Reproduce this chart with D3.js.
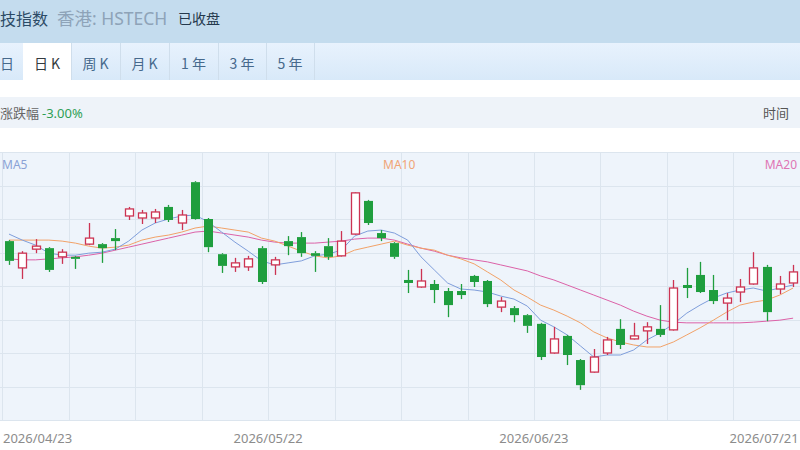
<!DOCTYPE html>
<html><head><meta charset="utf-8">
<script src="https://cdn.jsdelivr.net/npm/d3@7/dist/d3.min.js"></script>
<style>
html,body{margin:0;padding:0;background:#fff;overflow:hidden}
svg{display:block}
text{font-family:"Noto Sans","Noto Sans CJK SC",sans-serif}
</style></head>
<body>
<svg id="c" width="800" height="450"></svg>
<script>
// ---------- data ----------
const dates = ["2026/04/23","2026/04/24","2026/04/27","2026/04/28","2026/04/29","2026/04/30","2026/05/04","2026/05/05","2026/05/06","2026/05/07",
"2026/05/08","2026/05/11","2026/05/12","2026/05/13","2026/05/14","2026/05/15","2026/05/18","2026/05/19","2026/05/20","2026/05/21",
"2026/05/22","2026/05/26","2026/05/27","2026/05/28","2026/05/29","2026/06/01","2026/06/02","2026/06/03","2026/06/04","2026/06/05",
"2026/06/08","2026/06/09","2026/06/10","2026/06/11","2026/06/12","2026/06/15","2026/06/16","2026/06/17","2026/06/18","2026/06/22",
"2026/06/23","2026/06/24","2026/06/25","2026/06/26","2026/06/29","2026/06/30","2026/07/02","2026/07/03","2026/07/06","2026/07/07",
"2026/07/08","2026/07/09","2026/07/10","2026/07/13","2026/07/14","2026/07/15","2026/07/16","2026/07/17","2026/07/20","2026/07/21"];
const open  = [5934,5854,5910,5913,5887,5887,5925,5925,5943,6009, 6003,6003,6036,5988,6110,6000,5895,5857,5857,5913,
               5863,5934,5946,5898,5919,5890,5955,6054,5958,5928, 5818,5797,5806,5785,5785,5830,5815,5737,5734,5713,
               5687,5600,5651,5579,5543,5600,5672,5642,5666,5672, 5669,5803,5833,5788,5749,5782,5806,5857,5791,5809];
const close = [5875,5898,5919,5848,5901,5881,5943,5913,5934,6030, 6018,6021,5997,6012,6000,5916,5860,5869,5881,5812,
               5878,5919,5898,5890,5887,5934,6078,5988,5943,5887, 5809,5815,5788,5743,5773,5812,5746,5755,5713,5681,
               5588,5642,5594,5504,5588,5639,5624,5651,5678,5654, 5794,5794,5782,5755,5764,5797,5854,5722,5806,5842];
const high  = [5937,5904,5940,5916,5910,5890,5988,5928,5970,6036, 6027,6030,6042,6027,6113,6003,5898,5884,5890,5919,
               5887,5949,5961,5904,5943,5964,6080,6057,5967,5931, 5848,5851,5818,5794,5806,5833,5818,5767,5740,5716,
               5690,5678,5654,5582,5612,5648,5701,5690,5692,5743, 5818,5854,5872,5833,5779,5821,5901,5863,5830,5863];
const low   = [5863,5821,5898,5842,5866,5851,5922,5869,5907,5997, 5985,5988,5991,5967,5998,5901,5839,5842,5845,5806,
               5833,5892,5887,5842,5878,5888,5953,5982,5934,5881, 5779,5795,5749,5707,5761,5797,5737,5722,5692,5660,
               5579,5598,5564,5490,5541,5594,5612,5640,5627,5648, 5667,5764,5779,5746,5698,5752,5804,5695,5776,5797];
const ma5   = [5955,5937,5922,5898,5892,5892,5898,5901,5910,5934, 5967,5988,6000,6009,6012,5991,5961,5931,5904,5875,
               5863,5869,5875,5890,5895,5907,5949,5964,5967,5958, 5937,5887,5848,5809,5791,5788,5782,5770,5761,5740,
               5698,5678,5654,5621,5588,5594,5594,5609,5639,5660, 5687,5719,5743,5764,5779,5788,5794,5785,5794,5803];
const ma10  = [5937,5937,5937,5937,5934,5928,5919,5913,5916,5922, 5937,5946,5952,5961,5973,5979,5973,5967,5961,5943,
               5934,5919,5904,5890,5884,5890,5907,5916,5925,5934, 5922,5913,5907,5892,5881,5866,5842,5818,5788,5767,
               5743,5728,5710,5690,5663,5645,5633,5624,5618,5618, 5633,5654,5675,5698,5722,5743,5752,5758,5773,5794];
const ma20  = [5881,5878,5878,5881,5884,5887,5892,5898,5907,5916, 5925,5934,5943,5952,5961,5964,5958,5952,5946,5937,
               5931,5928,5928,5928,5931,5934,5940,5943,5943,5937, 5925,5913,5904,5892,5884,5878,5872,5863,5854,5845,
               5830,5818,5803,5788,5773,5758,5743,5725,5710,5698, 5692,5690,5690,5690,5690,5690,5692,5695,5698,5704];
const xLabels = ["2026/04/23","2026/05/22","2026/06/23","2026/07/21"];
const tabs = ["日","日 K","周 K","月 K","1 年","3 年","5 年"];
const yDomain = [5400, 6200];

// ---------- layout ----------
const svg = d3.select("#c");
const defs = svg.append("defs");
const g1 = defs.append("linearGradient").attr("id","tabbg").attr("x1",0).attr("x2",0).attr("y1",0).attr("y2",1);
g1.append("stop").attr("offset","0").attr("stop-color","#e8f2fd");
g1.append("stop").attr("offset","1").attr("stop-color","#d8e9f9");

// header band
svg.append("rect").attr("x",0).attr("y",0).attr("width",800).attr("height",43).attr("fill","#c4dcee");
svg.append("text").attr("x",0).attr("y",25).attr("font-size",16).attr("fill","#2c4b66")
  .style("font-family","'Noto Sans CJK SC'").text("技指数");
svg.append("text").attr("x",57).attr("y",25).attr("font-size",17.5).attr("fill","#8ea3b8").text("香港: HSTECH");
svg.append("text").attr("x",178).attr("y",24).attr("font-size",14).attr("fill","#24384c")
  .style("font-family","'Noto Sans CJK SC'").text("已收盘");

// tab row
svg.append("rect").attr("x",0).attr("y",43).attr("width",800).attr("height",37).attr("fill","url(#tabbg)");
const tabEdges = [-13,23,71,120,169,218,266,314];
tabs.forEach((t,i)=>{
  const x0 = tabEdges[i], x1 = tabEdges[i+1];
  if (i===1) svg.append("rect").attr("x",x0).attr("y",43).attr("width",x1-x0).attr("height",38).attr("fill","#ffffff");
  svg.append("line").attr("x1",x1+0.5).attr("x2",x1+0.5).attr("y1",43).attr("y2",80).attr("stroke","#cfdeec");
  svg.append("text").attr("x", i===0 ? 0 : (x0+x1)/2).attr("y",69).attr("text-anchor", i===0 ? "start" : "middle").attr("font-size",14)
    .attr("fill", i===1 ? "#333a40" : "#46698c").style("font-family","'Noto Sans CJK SC'").text(t);
});

// info bar
svg.append("rect").attr("x",0).attr("y",97).attr("width",800).attr("height",31).attr("fill","#eef3f9");
svg.append("text").attr("x",0).attr("y",118).attr("font-size",13).attr("fill","#666").style("font-family","'Noto Sans CJK SC'").text("涨跌幅");
svg.append("text").attr("x",42).attr("y",118).attr("font-size",13).attr("fill","#2f9f55").text("-3.00%");
svg.append("text").attr("x",763).attr("y",118).attr("font-size",13).attr("fill","#555").style("font-family","'Noto Sans CJK SC'").text("时间");

// plot
const pTop = 152, pBottom = 420, pLeft = 2.35, pRight = 799.75;
svg.append("rect").attr("x",0).attr("y",pTop).attr("width",800).attr("height",pBottom-pTop).attr("fill","#eef4fb");
svg.append("line").attr("x1",0).attr("x2",800).attr("y1",pTop+0.5).attr("y2",pTop+0.5).attr("stroke","#d8e2ec");

const x = d3.scaleBand().domain(dates).range([pLeft,pRight]).padding(0);
const bw = x.bandwidth();
const cx = d => x(d) + bw/2;
const y = d3.scaleLinear().domain(yDomain).range([pBottom, pTop]);

// grid
const grid = svg.append("g");
y.ticks(8).forEach(v=>{
  grid.append("line").attr("x1",0).attr("x2",800).attr("y1",Math.round(y(v))+0.5).attr("y2",Math.round(y(v))+0.5)
    .attr("stroke","#dce5ee").attr("stroke-width",1);
});
dates.forEach((d,i)=>{
  if (i%5===0) grid.append("line").attr("x1",Math.round(x(d))+0.5).attr("x2",Math.round(x(d))+0.5)
    .attr("y1",pTop).attr("y2",pBottom).attr("stroke","#dce5ee");
});

// MA lines
const maDefs = [[ma5,"#7f9edb"],[ma10,"#f2a268"],[ma20,"#dc62a8"]];
maDefs.slice().reverse().forEach(([arr,col])=>{
  const line = d3.line().x((v,i)=>cx(dates[i])).y(v=>y(v)).curve(d3.curveLinear);
  svg.append("path").attr("d",line(arr)).attr("fill","none").attr("stroke",col).attr("stroke-width",1);
});

// candles
const upCol = "#cc3352", dnCol = "#1f9e3e";
const cw = 8;
dates.forEach((d,i)=>{
  const o=open[i], c=close[i], h=high[i], l=low[i];
  const up = c >= o;
  const col = up ? upCol : dnCol;
  const xc = Math.round(cx(d)) + 0.5;
  const yt = y(Math.max(o,c)), yb = y(Math.min(o,c));
  svg.append("line").attr("x1",xc).attr("x2",xc).attr("y1",y(h)).attr("y2",yt).attr("stroke",col).attr("stroke-width",1.3);
  svg.append("line").attr("x1",xc).attr("x2",xc).attr("y1",yb).attr("y2",y(l)).attr("stroke",col).attr("stroke-width",1.3);
  const hgt = Math.max(1.5, yb-yt);
  if (up) {
    svg.append("rect").attr("x",xc-cw/2).attr("y",yt).attr("width",cw).attr("height",hgt)
      .attr("fill","#ffffff").attr("stroke",col).attr("stroke-width",1.3);
  } else {
    svg.append("rect").attr("x",xc-cw/2-0.5).attr("y",yt).attr("width",cw+1).attr("height",hgt)
      .attr("fill",col).attr("stroke","none");
  }
});

// legend labels
svg.append("text").attr("x",2).attr("y",169).attr("font-size",12).attr("fill","#8aa2d6").text("MA5");
svg.append("text").attr("x",383).attr("y",169).attr("font-size",12).attr("fill","#f0a476").text("MA10");
svg.append("text").attr("x",797).attr("y",169).attr("text-anchor","end").attr("font-size",12).attr("fill","#de74b4").text("MA20");

// x labels
xLabels.forEach((lab,k)=>{
  let px, anchor;
  if (k===0) { px = 3; anchor = "start"; }
  else if (k===xLabels.length-1) { px = x(lab)+bw-1; anchor = "end"; }
  else { px = x(lab); anchor = "middle"; }
  svg.append("text").attr("x",px).attr("y",443).attr("text-anchor",anchor).attr("font-size",13)
    .attr("fill","#8c8c8c").text(lab);
});
</script>
</body></html>
